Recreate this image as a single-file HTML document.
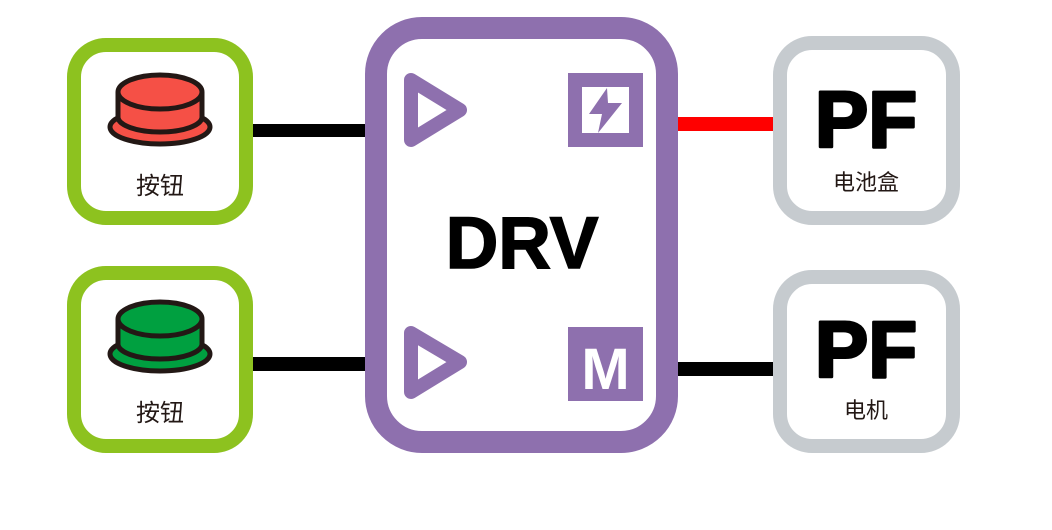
<!DOCTYPE html>
<html><head><meta charset="utf-8"><style>
body{margin:0;width:1052px;height:525px;background:#fff;overflow:hidden}
</style></head><body>
<svg width="1052" height="525" viewBox="0 0 1052 525" xmlns="http://www.w3.org/2000/svg">
<rect x="250" y="124" width="120" height="13" fill="#000"/>
<rect x="250" y="357" width="120" height="14" fill="#000"/>
<rect x="674" y="117" width="104" height="14" fill="#f00"/>
<rect x="674" y="362" width="104" height="14" fill="#000"/>
<rect x="74" y="45" width="172" height="173" rx="32" fill="#fff" stroke="#8dc21f" stroke-width="14"/>
<rect x="74" y="273" width="172" height="173" rx="32" fill="#fff" stroke="#8dc21f" stroke-width="14"/>
<g stroke="#231815" stroke-width="5">
<ellipse cx="160" cy="127" rx="50" ry="17" fill="#f55046"/>
<path d="M118 92 V117 A42 15 0 0 0 202 117 V92" fill="#f55046"/>
<ellipse cx="160" cy="92" rx="42" ry="17" fill="#f55046"/>
</g>
<g stroke="#231815" stroke-width="5">
<ellipse cx="160" cy="354" rx="50" ry="17" fill="#00a040"/>
<path d="M118 319 V344 A42 15 0 0 0 202 344 V319" fill="#00a040"/>
<ellipse cx="160" cy="319" rx="42" ry="17" fill="#00a040"/>
</g>
<g font-family="'Liberation Sans','Noto Sans CJK SC',sans-serif" font-size="24" fill="#231815" text-anchor="middle">
<text x="160" y="194">按钮</text>
<text x="160" y="421">按钮</text>
</g>
<rect x="376" y="28" width="291" height="414" rx="46" fill="#fff" stroke="#8e70ae" stroke-width="22"/>
<path d="M411 80 L460 110 L411 140 Z" fill="none" stroke="#8e70ae" stroke-width="14" stroke-linejoin="round"/>
<path d="M411 333 L460 362 L411 392 Z" fill="none" stroke="#8e70ae" stroke-width="14" stroke-linejoin="round"/>
<rect x="575" y="80" width="61" height="60" fill="none" stroke="#8e70ae" stroke-width="14"/>
<path d="M607 88 L589 114 L602 114 L598 133 L622 103 L608 103 Z" fill="#8e70ae"/>
<rect x="568" y="327" width="75" height="74" fill="#8e70ae"/>
<text x="605.5" y="389" font-family="'Liberation Sans',sans-serif" font-weight="bold" font-size="58" fill="#fff" text-anchor="middle">M</text>
<text x="522" y="268" font-family="'Liberation Sans',sans-serif" font-weight="bold" font-size="73" fill="#000" text-anchor="middle" stroke="#000" stroke-width="1.5">DRV</text>
<rect x="780" y="43" width="173" height="175" rx="32" fill="#fff" stroke="#c6cbcf" stroke-width="14"/>
<rect x="780" y="277" width="173" height="169" rx="32" fill="#fff" stroke="#c6cbcf" stroke-width="14"/>
<g font-family="'Liberation Sans',sans-serif" font-weight="bold" font-size="80" fill="#000" text-anchor="middle" stroke="#000" stroke-width="3" stroke-linejoin="round">
<text x="866" y="147">PF</text>
<text x="866" y="377">PF</text>
</g>
<g font-family="'Liberation Sans','Noto Sans CJK SC',sans-serif" font-size="22" fill="#231815" text-anchor="middle">
<text x="866" y="190">电池盒</text>
<text x="866" y="418">电机</text>
</g>
</svg>
</body></html>
